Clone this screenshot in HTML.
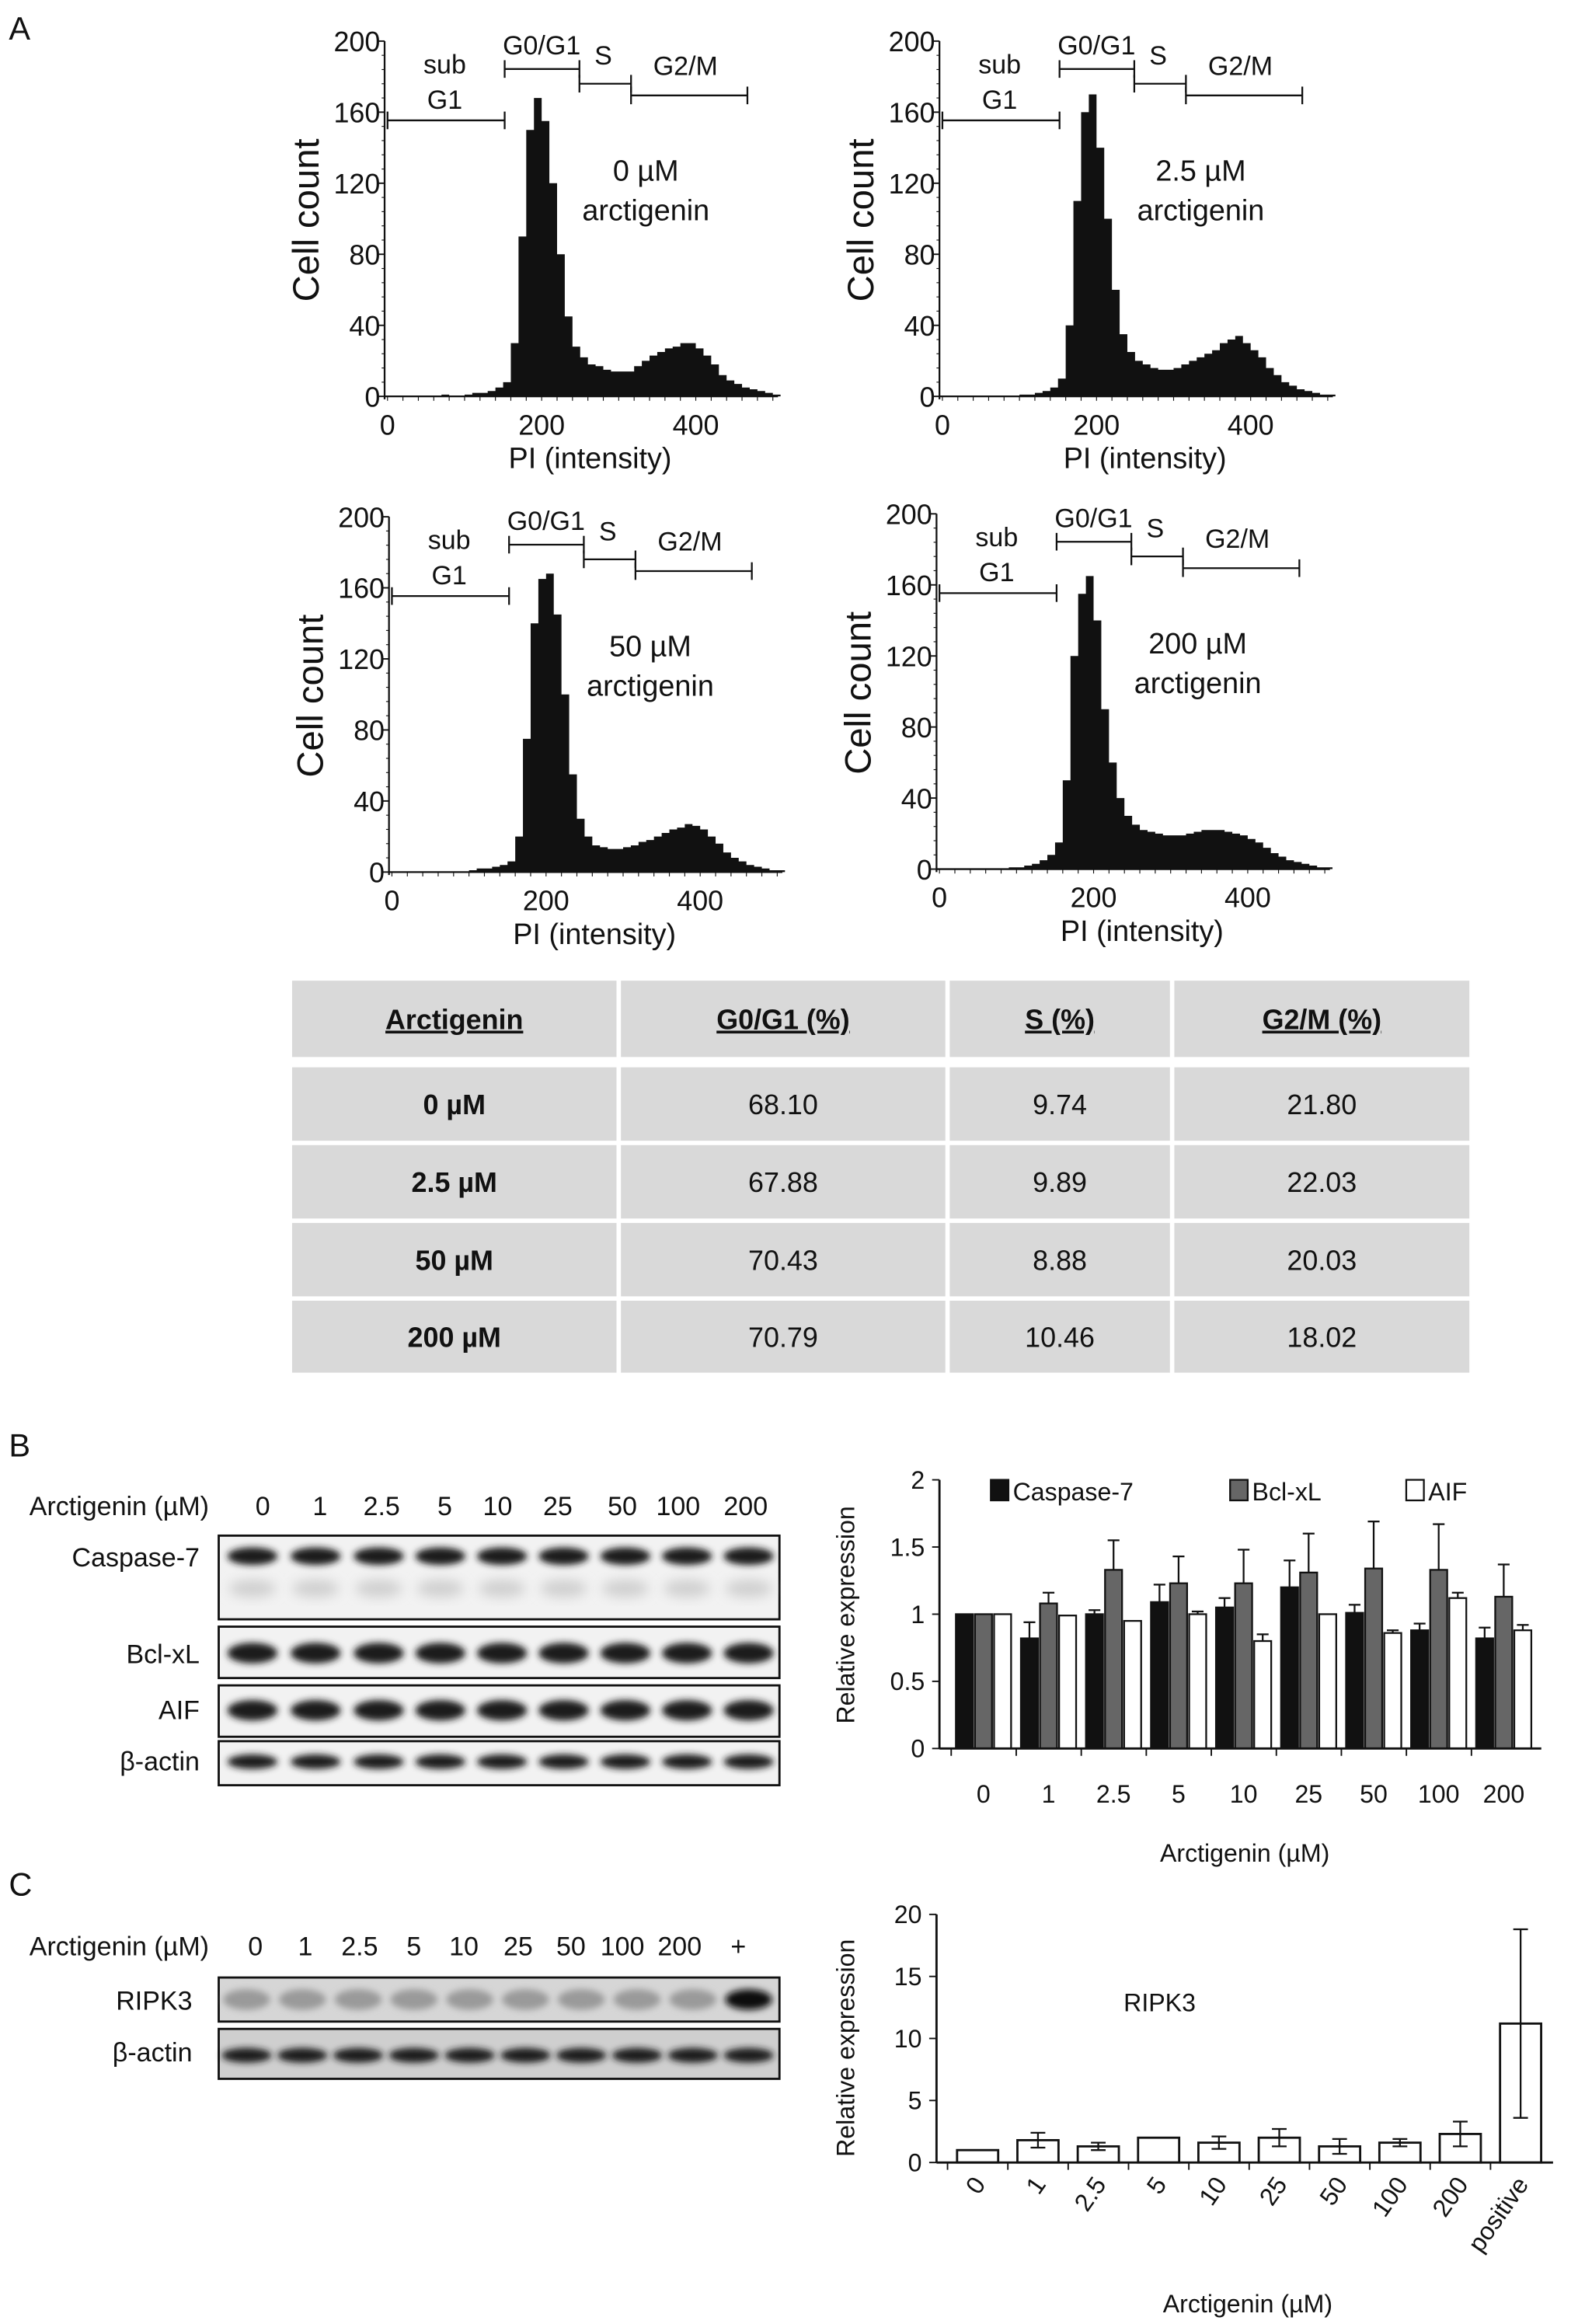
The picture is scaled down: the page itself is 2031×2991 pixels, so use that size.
<!DOCTYPE html>
<html><head><meta charset="utf-8"><style>
html,body{margin:0;padding:0;background:#fff}
svg{display:block}
text{font-family:"Liberation Sans",sans-serif;fill:#111}
</style></head><body>
<svg id="fig" xmlns="http://www.w3.org/2000/svg" width="2031" height="2991" viewBox="0 0 1075 1583" preserveAspectRatio="none">
<defs><filter id="blur" x="-20%" y="-50%" width="140%" height="200%"><feGaussianBlur stdDeviation="2.2"/></filter>
<filter id="blur2" x="-20%" y="-50%" width="140%" height="200%"><feGaussianBlur stdDeviation="4"/></filter></defs>
<text x="6" y="27" font-size="22">A</text>
<text x="6" y="992" font-size="22">B</text>
<text x="6" y="1291" font-size="22">C</text>
<g id="hists"></g><g id="table"></g><g id="blotsB"></g><g id="chartB"></g><g id="blotsC"></g><g id="chartC"></g>
</svg>
<script>
const NS="http://www.w3.org/2000/svg";
function mk(p,tag,at,txt){const e=document.createElementNS(NS,tag);for(const k in at)e.setAttribute(k,at[k]);if(txt!==undefined)e.textContent=txt;p.appendChild(e);return e;}

// ---------- Histogram data (bins of 10 PI units, 0..500) ----------
const histBins=[0,10,20,30,40,50,60,70,80,90,100,110,120,130,140,150,160,170,180,190,200,210,220,230,240,250,260,270,280,290,300,310,320,330,340,350,360,370,380,390,400,410,420,430,440,450,460,470,480,490,500];
const hist0=[0,0,0,0,0,0,0,1,0,0,1,2,2,3,5,8,30,90,150,168,155,120,80,45,28,22,18,17,15,14,14,14,17,20,23,25,27,28,30,30,27,23,18,12,9,7,5,4,3,2,1];
const hist25=[0,0,0,0,0,0,0,0,0,0,1,1,2,3,5,10,40,110,160,170,140,100,60,35,25,20,18,16,15,15,16,18,20,22,24,26,30,32,34,30,26,22,16,12,8,6,4,3,2,1,1];
const hist50=[0,0,0,0,0,0,0,0,0,0,1,2,2,3,4,6,20,75,140,165,168,145,100,55,30,20,15,14,13,13,14,15,17,18,20,22,24,25,27,26,24,20,16,11,8,6,4,3,2,1,1];
const hist200=[0,0,0,0,0,0,0,0,0,1,1,2,3,5,8,15,50,120,155,165,140,90,60,40,30,25,22,21,20,19,19,19,20,21,22,22,22,21,20,19,17,15,12,9,7,5,4,3,2,1,1];
const histLabels=["0 µM","2.5 µM","50 µM","200 µM"];
const histTicksY=[0,40,80,120,160,200];
const histTicksX=[0,200,400];

const panels=[{ax:262,by:270,d:hist0},{ax:640,by:270,d:hist25},{ax:265,by:594,d:hist50},{ax:638,by:592,d:hist200}];
const H=document.getElementById('hists');
panels.forEach((p,pi)=>{
  const g=mk(H,'g',{});
  
  
  const yS=v=>p.by-v*242/200, xS=v=>p.ax+2+v*0.525;
  let d='M'+xS(0)+','+p.by;
  p.d.forEach((v,i)=>{d+=' L'+xS(histBins[i])+','+yS(v)+' L'+xS(histBins[i]+10)+','+yS(v);});
  d+=' L'+xS(510)+','+p.by+' Z';
  const hp=mk(g,'path',{d:d,fill:'#111'});
  
  
  mk(g,'line',{x1:p.ax,y1:yS(200),x2:p.ax,y2:p.by+2,stroke:'#111','stroke-width':1.2});
  mk(g,'line',{x1:p.ax,y1:p.by,x2:p.ax+268,y2:p.by,stroke:'#111','stroke-width':1.2});
  histTicksY.forEach(t=>{mk(g,'line',{x1:p.ax-5,y1:yS(t),x2:p.ax,y2:yS(t),stroke:'#111'});
    mk(g,'text',{x:p.ax-3,y:yS(t)+7,'font-size':19,'text-anchor':'end'},t);});
  for(let t=0;t<=200;t+=8)mk(g,'line',{x1:p.ax-2,y1:yS(t),x2:p.ax,y2:yS(t),stroke:'#111','stroke-width':0.6});
  histTicksX.forEach(t=>mk(g,'text',{x:xS(t),y:p.by+26,'font-size':19,'text-anchor':'middle'},t));
  for(let t=0;t<=500;t+=20)mk(g,'line',{x1:xS(t),y1:p.by,x2:xS(t),y2:p.by+3,stroke:'#111','stroke-width':0.6});
  const yl=mk(g,'text',{x:0,y:0,'font-size':25,'text-anchor':'middle',transform:`translate(${p.ax-45},${p.by-120}) rotate(-90)`},'Cell count');
  
  const xl=mk(g,'text',{x:p.ax+140,y:p.by+49,'font-size':20,'text-anchor':'middle'},'PI (intensity)');
  
  const gates=[[0,152,82],[152,249,47],[249,316,57],[316,467,65]];
  gates.forEach(q=>{const y=p.by-270+q[2];
    mk(g,'line',{x1:xS(q[0]),y1:y,x2:xS(q[1]),y2:y,stroke:'#111','stroke-width':1.2});
    mk(g,'line',{x1:xS(q[0]),y1:y-6,x2:xS(q[0]),y2:y+6,stroke:'#111','stroke-width':1.2});
    mk(g,'line',{x1:xS(q[1]),y1:y-6,x2:xS(q[1]),y2:y+6,stroke:'#111','stroke-width':1.2});});
  const o=p.by-270;
  mk(g,'text',{x:p.ax+41,y:o+50,'font-size':18,'text-anchor':'middle'},'sub');
  mk(g,'text',{x:p.ax+41,y:o+74,'font-size':18,'text-anchor':'middle'},'G1');
  mk(g,'text',{x:p.ax+107,y:o+37,'font-size':18,'text-anchor':'middle'},'G0/G1');
  mk(g,'text',{x:p.ax+149,y:o+44,'font-size':18,'text-anchor':'middle'},'S');
  mk(g,'text',{x:p.ax+205,y:o+51,'font-size':18,'text-anchor':'middle'},'G2/M');
  const dl=mk(g,'text',{x:p.ax+178,y:o+123,'font-size':20,'text-anchor':'middle'},histLabels[pi]);
  
  mk(g,'text',{x:p.ax+178,y:o+150,'font-size':20,'text-anchor':'middle'},'arctigenin');
});

// ---------- Table ----------
const tHead=["Arctigenin","G0/G1 (%)","S (%)","G2/M (%)"];
const tRows=[["0 µM","68.10","9.74","21.80"],["2.5 µM","67.88","9.89","22.03"],["50 µM","70.43","8.88","20.03"],["200 µM","70.79","10.46","18.02"]];
const T=document.getElementById('table');
const cols=[[199,420],[423,644],[647,797],[800,1001]];
const rowsY=[[668,720],[727,777],[780,830],[833,883],[886,935]];
rowsY.forEach((r,ri)=>{cols.forEach((c,ci)=>{
  const cell=mk(T,'rect',{x:c[0],y:r[0],width:c[1]-c[0],height:r[1]-r[0],fill:'#d9d9d9'});
  
  const txt=ri===0?tHead[ci]:tRows[ri-1][ci];
  const t=mk(T,'text',{x:(c[0]+c[1])/2,y:(r[0]+r[1])/2+7,'font-size':19,'text-anchor':'middle','font-weight':(ri===0||ci===0)?'bold':'normal'},txt);
  if(ri===0){t.setAttribute('text-decoration','underline');}
});});

// ---------- Blots ----------
function blot(parent,x0,x1,y0,y1,centers,bandY,bandH,opts){
  const g=mk(parent,'g',{});
  mk(g,'rect',{x:x0,y:y0,width:x1-x0,height:y1-y0,fill:opts.bg||'#f2f2f2',stroke:'#111','stroke-width':1.5});
  centers.forEach((c,i)=>{
    mk(g,'ellipse',{cx:c,cy:bandY,rx:opts.w||17,ry:bandH,fill:opts.col?opts.col[i]:'#1a1a1a',filter:'url(#blur)'});
    if(opts.ghost)mk(g,'ellipse',{cx:c,cy:bandY+22,rx:16,ry:6,fill:'#d0d0d0',filter:'url(#blur2)'});
  });
  return g;
}
const BB=document.getElementById('blotsB');
const lanesB=["0","1","2.5","5","10","25","50","100","200"];
const laneXB=[179,218,260,303,339,380,424,462,508];
mk(BB,'text',{x:20,y:1032,'font-size':18},'Arctigenin (µM)');
lanesB.forEach((l,i)=>mk(BB,'text',{x:laneXB[i],y:1032,'font-size':18,'text-anchor':'middle'},l));
const bandX=[172,215,258,300,342,384,426,468,510];
const bc=blot(BB,149,531,1046,1103,bandX,1060,6,{ghost:true});
const bb=blot(BB,149,531,1108,1143,bandX,1126,7,{});
const ba=blot(BB,149,531,1148,1183,bandX,1165,7,{});
const bact=blot(BB,149,531,1186,1216,bandX,1200,5,{});
[["Caspase-7",1067],["Bcl-xL",1133],["AIF",1171],["β-actin",1206]].forEach(l=>mk(BB,'text',{x:136,y:l[1],'font-size':18,'text-anchor':'end'},l[0]));

const BC=document.getElementById('blotsC');
const lanesC=["0","1","2.5","5","10","25","50","100","200","+"];
const laneXC=[174,208,245,282,316,353,389,424,463,503];
mk(BC,'text',{x:20,y:1332,'font-size':18},'Arctigenin (µM)');
lanesC.forEach((l,i)=>mk(BC,'text',{x:laneXC[i],y:1332,'font-size':18,'text-anchor':'middle'},l));
const bandXC=[168,206,244,282,320,358,396,434,472,510];
const rcol=bandXC.map((c,i)=>i===9?'#111':'#9a9a9a');
const br=blot(BC,149,531,1347,1377,bandXC,1362,7,{bg:'#d6d6d6',col:rcol,w:16});
const bac=blot(BC,149,531,1382,1416,bandXC,1400,5,{bg:'#cfcfcf'});
mk(BC,'text',{x:131,y:1369,'font-size':18,'text-anchor':'end'},'RIPK3');
mk(BC,'text',{x:131,y:1404,'font-size':18,'text-anchor':'end'},'β-actin');

// ---------- Chart B ----------
const catB=["0","1","2.5","5","10","25","50","100","200"];
const casp=[1,0.82,1.0,1.09,1.05,1.2,1.01,0.88,0.82];
const caspErr=[0,0.12,0.03,0.13,0.07,0.2,0.06,0.05,0.08];
const bcl=[1,1.08,1.33,1.23,1.23,1.31,1.34,1.33,1.13];
const bclErr=[0,0.08,0.22,0.2,0.25,0.29,0.35,0.34,0.24];
const aif=[1,0.99,0.95,1.0,0.8,1.0,0.86,1.12,0.88];
const aifErr=[0,0,0,0.02,0.05,0,0.02,0.04,0.04];
const ticksB=[0,0.5,1,1.5,2];
const tickLabB=["0","0.5","1","1.5","2"];
const CB=document.getElementById('chartB');
const yB=v=>1191-v*91.5, xB=i=>670+i*44.3;
const series=[[casp,caspErr,'#111',-13],[bcl,bclErr,'#666',0],[aif,aifErr,'#fff',13]];
series.forEach((s,si)=>s[0].forEach((v,i)=>{
  const cx=xB(i)+s[3];
  const r=mk(CB,'rect',{x:cx-5.8,y:yB(v),width:11.6,height:yB(0)-yB(v),fill:s[2],stroke:'#111','stroke-width':1.2});
  
  
  if(s[1][i]>0){const yt=yB(v+s[1][i]);
    mk(CB,'line',{x1:cx,y1:yB(v),x2:cx,y2:yt,stroke:'#111','stroke-width':1.2});
    mk(CB,'line',{x1:cx-4,y1:yt,x2:cx+4,y2:yt,stroke:'#111','stroke-width':1.2});}
}));
mk(CB,'line',{x1:640,y1:yB(2),x2:640,y2:yB(0),stroke:'#111','stroke-width':1.5});
mk(CB,'line',{x1:640,y1:yB(0),x2:1050,y2:yB(0),stroke:'#111','stroke-width':1.5});
ticksB.forEach((t,i)=>{mk(CB,'line',{x1:635,y1:yB(t),x2:640,y2:yB(t),stroke:'#111'});
  mk(CB,'text',{x:630,y:yB(t)+6,'font-size':17,'text-anchor':'end'},tickLabB[i]);});
catB.forEach((c,i)=>{mk(CB,'line',{x1:xB(i)-22,y1:yB(0),x2:xB(i)-22,y2:yB(0)+5,stroke:'#111'});
  mk(CB,'text',{x:xB(i),y:1228,'font-size':17,'text-anchor':'middle'},c);});
const ylb=mk(CB,'text',{x:0,y:0,'font-size':17,'text-anchor':'middle',transform:'translate(582,1100) rotate(-90)'},'Relative expression');

const xlb=mk(CB,'text',{x:848,y:1268,'font-size':17,'text-anchor':'middle'},'Arctigenin (µM)');

[['#111',675,'Caspase-7'],['#666',838,'Bcl-xL'],['#fff',958,'AIF']].forEach(l=>{
  const lg=mk(CB,'g',{});
  mk(lg,'rect',{x:l[1],y:1008,width:12,height:14,fill:l[0],stroke:'#111','stroke-width':1.2});
  mk(lg,'text',{x:l[1]+15,y:1022,'font-size':17},l[2]);});

// ---------- Chart C ----------
const catC=["0","1","2.5","5","10","25","50","100","200","positive"];
const ripk=[1,1.8,1.3,2,1.6,2,1.3,1.6,2.3,11.2];
const ripkErr=[0,0.6,0.3,0,0.5,0.7,0.6,0.3,1.0,7.6];
const ticksC=[0,5,10,15,20];
const CC=document.getElementById('chartC');
const yC=v=>1473-v*8.45, xC=i=>666+i*41.1;
ripk.forEach((v,i)=>{
  const r=mk(CC,'rect',{x:xC(i)-14,y:yC(v),width:28,height:yC(0)-yC(v),fill:'#fff',stroke:'#111','stroke-width':1.5});
  
  if(ripkErr[i]>0){const a=yC(v+ripkErr[i]),b=yC(v-ripkErr[i]);
    mk(CC,'line',{x1:xC(i),y1:a,x2:xC(i),y2:b,stroke:'#111','stroke-width':1.2});
    mk(CC,'line',{x1:xC(i)-5,y1:a,x2:xC(i)+5,y2:a,stroke:'#111','stroke-width':1.2});
    mk(CC,'line',{x1:xC(i)-5,y1:b,x2:xC(i)+5,y2:b,stroke:'#111','stroke-width':1.2});}
  mk(CC,'line',{x1:xC(i)-20.5,y1:yC(0),x2:xC(i)-20.5,y2:yC(0)+5,stroke:'#111'});
  mk(CC,'text',{x:0,y:0,'font-size':17,'text-anchor':'end',transform:`translate(${xC(i)+6},${1488}) rotate(-55)`},catC[i]);
});
mk(CC,'line',{x1:638,y1:yC(20),x2:638,y2:yC(0),stroke:'#111','stroke-width':1.5});
mk(CC,'line',{x1:638,y1:yC(0),x2:1058,y2:yC(0),stroke:'#111','stroke-width':1.5});
ticksC.forEach(t=>{mk(CC,'line',{x1:633,y1:yC(t),x2:638,y2:yC(t),stroke:'#111'});
  mk(CC,'text',{x:628,y:yC(t)+6,'font-size':17,'text-anchor':'end'},t);});
const ylc=mk(CC,'text',{x:0,y:0,'font-size':17,'text-anchor':'middle',transform:'translate(582,1395) rotate(-90)'},'Relative expression');

const xlc=mk(CC,'text',{x:850,y:1575,'font-size':17,'text-anchor':'middle'},'Arctigenin (µM)');

mk(CC,'text',{x:790,y:1370,'font-size':17,'text-anchor':'middle'},'RIPK3');
</script>
</body></html>
